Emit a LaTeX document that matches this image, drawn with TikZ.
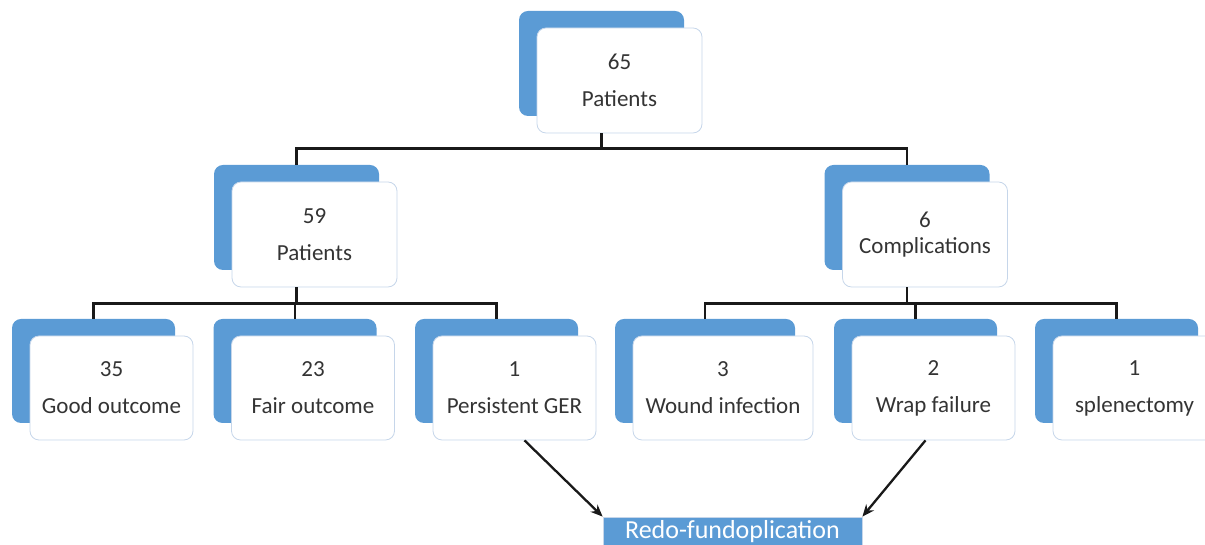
\documentclass[tikz,border=0pt]{standalone}
\usepackage{fontspec}
\setmainfont{Carlito}
\usetikzlibrary{shadows,arrows.meta}
\definecolor{boxblue}{RGB}{91,155,213}
\definecolor{boxedge}{RGB}{198,214,234}
\definecolor{txtgray}{RGB}{52,52,52}
\begin{document}
\begin{tikzpicture}[x=1pt,y=1pt,
  card/.style={draw=boxedge,line width=0.8pt,fill=white,rounded corners=9pt,
    minimum width=165pt,minimum height=105pt,inner sep=0pt,align=center,text=txtgray,
    font=\fontsize{23}{37}\selectfont,
    copy shadow={shadow xshift=-18pt,shadow yshift=17pt,fill=boxblue,draw=none}},
  small/.style={minimum width=163pt,minimum height=104pt},
  link/.style={line width=2.3pt,black!90},
  redobox/.style={fill=boxblue,draw=boxedge,line width=0.8pt,minimum width=259pt,
    minimum height=30pt,inner sep=0pt,text=white,font=\fontsize{26}{30}\selectfont}]
\useasboundingbox (0,0) rectangle (1205,545);
\node[card] (top) at (619.5,464.5) {65\\Patients};
\node[card] (left) at (314.5,310.5) {59\\Patients};
\node[card,font=\fontsize{23}{26}\selectfont] (right) at (925,310.5) {6\\Complications};
\node[card,small] (good) at (111.5,157) {35\\Good outcome};
\node[card,small] (fair) at (313,157) {23\\Fair outcome};
\node[card,small] (ger) at (514.5,157) {1\\Persistent GER};
\node[card,small,minimum width=180pt] (wound) at (723,157) {3\\Wound infection};
\node[card,small] (wrap) at (933.5,157) {2\\Wrap failure};
\node[card,small] (splen) at (1134.5,157) {1\\splenectomy};
\node[redobox] (redo) at (732.5,13) {Redo-fundoplication};
\foreach \n in {top,left,right,good,fair,ger,wound,wrap,splen}{
  \coordinate (\n-up) at ([shift={(-18pt,17pt)}]\n.north);
  \coordinate (\n-dn) at ([xshift=-18pt]\n.south);}
\draw[link](top-dn)--++(0,-15)coordinate(bus1);
\draw[link](left-up)|-(bus1)-|(right-up);
\draw[link](left-dn)--++(0,-16)coordinate(bus2);
\draw[link](good-up)|-(bus2)-|(ger-up);
\draw[link](fair-up)--(fair-up|-bus2);
\draw[link](right-dn)--++(0,-16)coordinate(bus3);
\draw[link](wound-up)|-(bus3)-|(splen-up);
\draw[link](wrap-up)--(wrap-up|-bus3);
\draw[link,-{Stealth[length=12pt,width=10pt]}]([xshift=10pt]ger.south)--(redo.north west);
\draw[link,-{Stealth[length=12pt,width=10pt]}]([xshift=-8pt]wrap.south)--(redo.north east);
\end{tikzpicture}
\end{document}
